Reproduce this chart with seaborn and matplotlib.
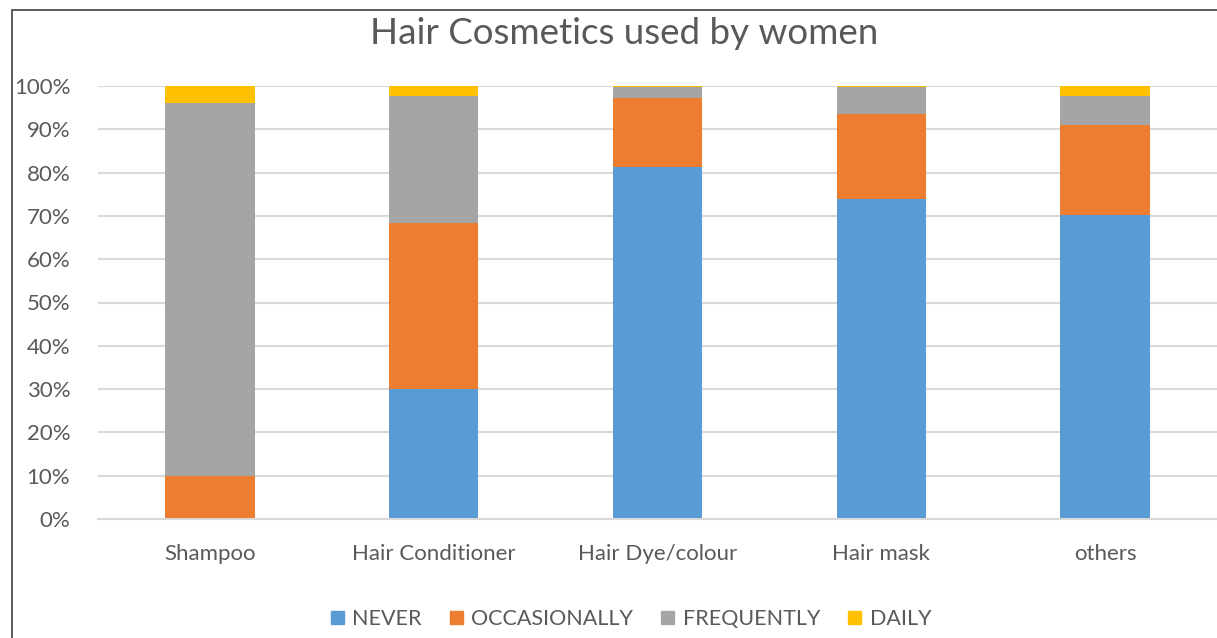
import numpy as np
import pandas as pd
import matplotlib
matplotlib.use("Agg")
import matplotlib.pyplot as plt
import matplotlib.patches as mpatches
import seaborn as sns

# data (percent of respondents)
categories = ['Shampoo', 'Hair Conditioner', 'Hair Dye/colour', 'Hair mask', 'others']
never = [0.0, 30.0, 81.3, 73.9, 70.1]
occasionally = [10.0, 38.4, 15.9, 19.6, 20.9]
frequently = [86.0, 29.3, 2.5, 6.3, 6.7]
daily = [4.0, 2.3, 0.3, 0.2, 2.3]

series_names = ['NEVER', 'OCCASIONALLY', 'FREQUENTLY', 'DAILY']
series_colors = ['#5b9bd5', '#ed7d31', '#a5a5a5', '#ffc000']

sns.set_style("white")
plt.rcParams['font.family'] = ['Lato', 'DejaVu Sans']

fig = plt.figure(figsize=(12.17, 6.38), dpi=100)
ax = fig.add_axes([98 / 1217, 1 - 519 / 638, 1 - 98 / 1217, (519 - 86) / 638])

df = pd.DataFrame({'category': categories, 'NEVER': never, 'OCCASIONALLY': occasionally,
                   'FREQUENTLY': frequently, 'DAILY': daily})

bottom = np.zeros(len(categories))
for name, col in zip(series_names, series_colors):
    sns.barplot(data=df, x='category', y=name, color=col, width=0.4, bottom=bottom,
                ax=ax, linewidth=0, saturation=1)
    bottom = bottom + df[name].values

ax.set_xlim(-0.5, 4.5)
ax.set_ylim(0, 100)
ax.set_yticks(np.arange(0, 101, 10))
ax.set_yticklabels([f"{v}%" for v in range(0, 101, 10)])
ax.yaxis.grid(True, color='#d9d9d9', linewidth=1.5)
ax.set_axisbelow(True)
for s in ['top', 'right', 'left']:
    ax.spines[s].set_visible(False)
ax.spines['bottom'].set_color('#d9d9d9')
ax.spines['bottom'].set_linewidth(1.5)
ax.tick_params(axis='both', length=0, colors='#595959', labelsize=16)
ax.tick_params(axis='x', pad=18)
ax.tick_params(axis='y', pad=20)
ax.set_xlabel('')
ax.set_ylabel('')

fig.text(624 / 1217, 1 - 34 / 638, 'Hair Cosmetics used by women', ha='center', va='center',
         fontsize=26.5, color='#595959')

handles = [mpatches.Patch(color=c, label=n) for n, c in zip(series_names, series_colors)]
fig.legend(handles=handles, loc='center', bbox_to_anchor=(631 / 1217, 1 - 619 / 638), ncol=4,
           frameon=False, fontsize=15.5, labelcolor='#595959', handlelength=0.6,
           handleheight=0.6, handletextpad=0.4, columnspacing=1.3)

# chart frame
fig.patches.append(mpatches.Rectangle((12 / 1217, -0.1), 1.1, 1.1 - 10 / 638, transform=fig.transFigure,
                                      fill=False, edgecolor='#404040', linewidth=1.2))

fig.savefig('out.png', dpi=100)
